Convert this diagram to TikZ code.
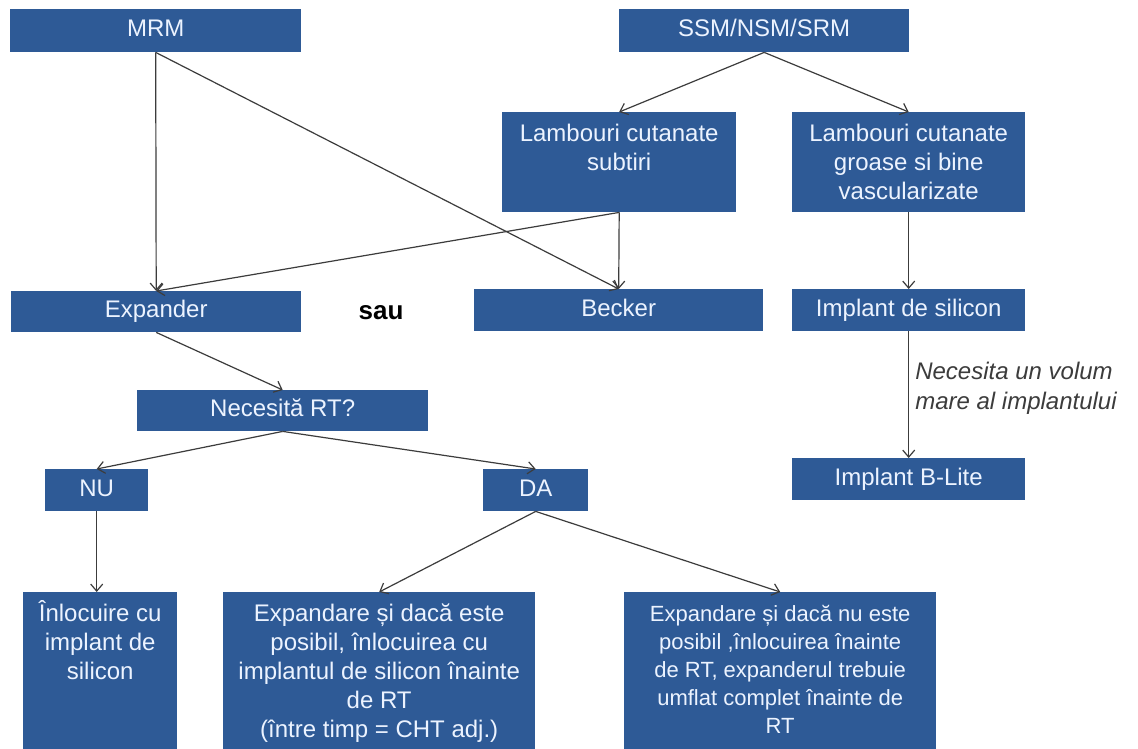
\documentclass[tikz,border=0pt]{standalone}
\usepackage{fontspec}
\setmainfont{Liberation Sans}
\usetikzlibrary{arrows.meta}
\definecolor{boxblue}{RGB}{46,90,150}
\definecolor{boxtext}{RGB}{236,243,255}
\definecolor{linegray}{RGB}{60,60,60}
\newcommand{\topbox}[3]{\parbox[c][#2pt][t]{#1pt}{\centering\rule{0pt}{29pt}#3}}
\tikzset{
  box/.style={fill=boxblue, text=boxtext, inner sep=0pt, font=\fontsize{24}{29}\selectfont, align=center},
  sbox/.style={box, text height=17pt, text depth=5pt},
  arr/.style={draw=linegray, line width=1.2pt, -{Straight Barb[length=7pt,width=12pt,line width=1.2pt]}}
}
\begin{document}
\begin{tikzpicture}[x=1pt,y=-1pt]
\fill[white] (0,0) rectangle (1138,749);
\useasboundingbox (0,0) rectangle (1138,749);
% top row
\node[sbox, minimum width=291pt, minimum height=43pt, anchor=north west] (mrm) at (10,9) {MRM};
\node[sbox, minimum width=290pt, minimum height=43pt, anchor=north west] (ssm) at (619,9) {SSM/NSM/SRM};
\node[box, anchor=north west] (sub) at (502,112) {\topbox{234}{100}{Lambouri cutanate\\subtiri}};
\node[box, anchor=north west] (gro) at (792,112) {\topbox{233}{100}{Lambouri cutanate\\groase si bine\\vascularizate}};
% second row
\node[sbox, minimum width=290pt, minimum height=41pt, anchor=north west] (exp) at (11,291) {Expander};
\node[font=\fontsize{26}{30}\selectfont\bfseries, text=black, inner sep=0pt] (sau) at (381,313) {sau};
\node[sbox, minimum width=289pt, minimum height=42pt, anchor=north west] (bec) at (474,289) {Becker};
\node[sbox, minimum width=233pt, minimum height=42pt, anchor=north west] (sil) at (792,289) {Implant de silicon};
% third
\node[sbox, minimum width=291pt, minimum height=41pt, anchor=north west] (nec) at (137,390) {Necesită RT?};
\node[sbox, minimum width=233pt, minimum height=42pt, anchor=north west] (bl) at (792,458) {Implant B-Lite};
\node[sbox, minimum width=103pt, minimum height=42pt, anchor=north west] (nu) at (45,469) {NU};
\node[sbox, minimum width=105pt, minimum height=42pt, anchor=north west] (da) at (483,469) {DA};
% bottom
\node[box, anchor=north west] (inl) at (23,592) {\topbox{154}{162}{Înlocuire cu\\implant de\\silicon}};
\node[box, anchor=north west] (mid) at (223,592) {\topbox{312}{162}{Expandare și dacă este\\posibil, înlocuirea cu\\implantul de silicon înainte\\de RT\\(între timp = CHT adj.)}};
\node[box, anchor=north west, font=\fontsize{22}{28}\selectfont] (rgt) at (624,592) {\topbox{312}{162}{Expandare și dacă nu este\\posibil ,înlocuirea înainte\\de RT, expanderul trebuie\\umflat complet înainte de\\RT}};
% connectors
\draw[arr] (mrm.south) -- (exp.north);
\draw[arr] (mrm.south) -- (bec.north);
\draw[arr] (sub.south) -- (bec.north);
\draw[arr] (sub.south) -- (exp.north);
\draw[arr] (ssm.south) -- (sub.north);
\draw[arr] (ssm.south) -- (gro.north);
\draw[arr] (gro.south) -- (sil.north);
\draw[arr] (sil.south) -- node[right=6pt, pos=0.45, align=left, text=linegray, inner sep=0pt, font=\fontsize{24}{30}\selectfont\itshape] (lab) {Necesita un volum\\mare al implantului} (bl.north);
\draw[arr] (exp.south) -- (nec.north);
\draw[arr] (nec.south) -- (nu.north);
\draw[arr] (nec.south) -- (da.north);
\draw[arr] (nu.south) -- (nu.south |- inl.north);
\draw[arr] (da.south) -- (mid.north);
\draw[arr] (da.south) -- (rgt.north);
\end{tikzpicture}
\end{document}
